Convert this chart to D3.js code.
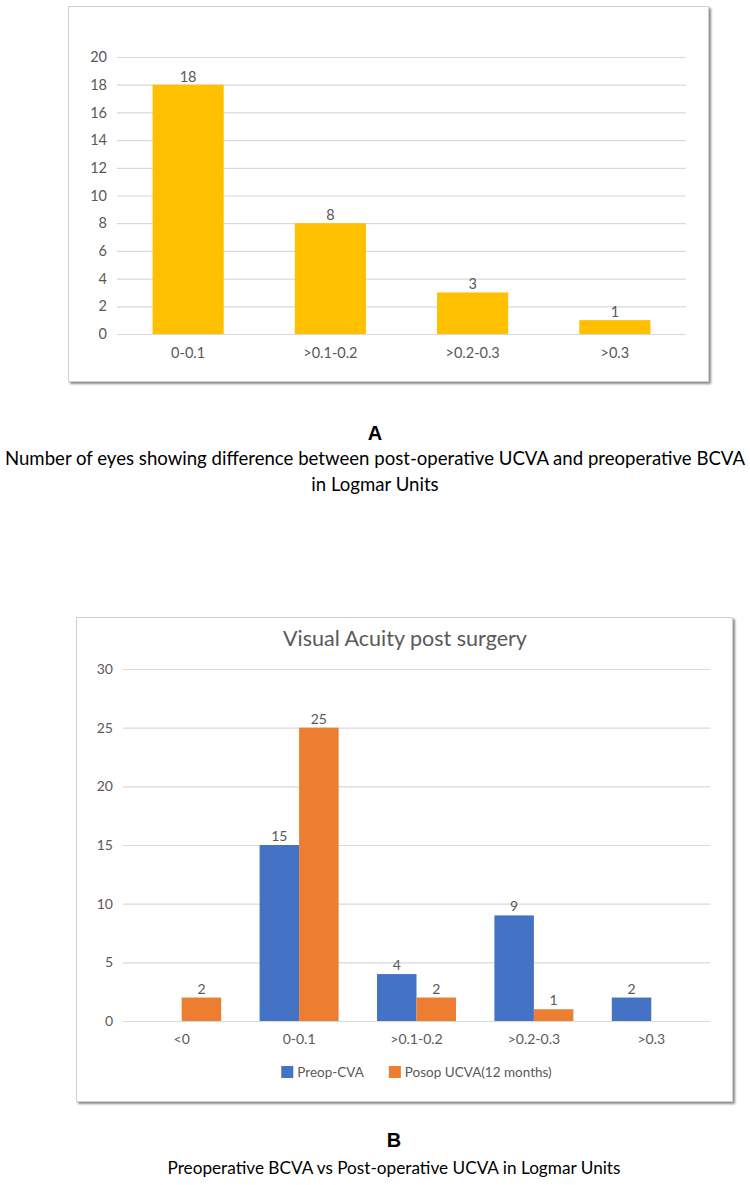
<!DOCTYPE html>
<html>
<head>
<meta charset="utf-8">
<script src="https://cdn.jsdelivr.net/npm/d3@7"></script>
<style>
  html, body { margin: 0; padding: 0; background: #fff; }
  svg { display: block; }
  text { font-family: Lato, "Open Sans", sans-serif; }
</style>
</head>
<body>
<svg id="chart" width="750" height="1185"></svg>
<script>
// ---------- DATA ----------
const catsA = ["0-0.1", ">0.1-0.2", ">0.2-0.3", ">0.3"];
const valsA = [18, 8, 3, 1];
const ticksA = [0, 2, 4, 6, 8, 10, 12, 14, 16, 18, 20];

const catsB = ["<0", "0-0.1", ">0.1-0.2", ">0.2-0.3", ">0.3"];
const preopB = [null, 15, 4, 9, 2];
const posopB = [2, 25, 2, 1, null];
const seriesB = ["Preop-CVA", "Posop UCVA(12 months)"];
const ticksB = [0, 5, 10, 15, 20, 25, 30];

const titleB = "Visual Acuity post surgery";
const labelA = "A";
const captionA = ["Number of eyes showing difference between post-operative UCVA and preoperative BCVA", "in Logmar Units"];
const labelB = "B";
const captionB = "Preoperative BCVA vs Post-operative UCVA in Logmar Units";

// ---------- STYLE ----------
const yellow = "#FFC000", blue = "#4472C4", orange = "#ED7D31";
const grid = "#d9d9d9", txt = "#595959";

const svg = d3.select("#chart");
svg.append("rect").attr("width", 750).attr("height", 1185).attr("fill", "#fff");

const defs = svg.append("defs");
const f = defs.append("filter").attr("id", "shadow").attr("x", "-5%").attr("y", "-5%").attr("width", "110%").attr("height", "110%");
f.append("feDropShadow").attr("dx", 2).attr("dy", 2).attr("stdDeviation", 1.2).attr("flood-color", "#000").attr("flood-opacity", 0.45);

function frame(x0, y0, x1, y1) {
  svg.append("rect").attr("x", x0).attr("y", y0).attr("width", x1 - x0).attr("height", y1 - y0)
    .attr("fill", "#fff").attr("stroke", "#d0d0d0").attr("stroke-width", 1).attr("filter", "url(#shadow)");
}

// ================= CHART A =================
frame(68.5, 6.5, 708.5, 381.5);
const gA = svg.append("g");
const xA = d3.scaleBand().domain(catsA).range([117, 686]).paddingInner(0.5).paddingOuter(0.25);
const yA = d3.scaleLinear().domain([0, 20]).range([334, 57]);

const yAxisA = gA.append("g").attr("transform", "translate(117,0)")
  .call(d3.axisLeft(yA).tickValues(ticksA).tickSize(-(686 - 117)).tickPadding(10).tickFormat(d3.format("d")));
yAxisA.select(".domain").remove();
yAxisA.selectAll(".tick line").attr("stroke", grid).attr("stroke-width", 1.2);
yAxisA.selectAll(".tick text").attr("fill", txt).style("font-size", "14.5px").style("font-family", "Lato");

const xAxisA = gA.append("g").attr("transform", "translate(0,334)")
  .call(d3.axisBottom(xA).tickSize(0).tickPadding(0));
xAxisA.select(".domain").remove();
xAxisA.selectAll(".tick text").attr("y", 19).attr("dy", "0.35em").attr("fill", txt).style("font-size", "14.5px").style("font-family", "Lato");

gA.selectAll("rect.bar").data(valsA).join("rect").attr("class", "bar")
  .attr("x", (d, i) => xA(catsA[i])).attr("width", xA.bandwidth())
  .attr("y", d => yA(d)).attr("height", d => yA(0) - yA(d)).attr("fill", yellow);

gA.selectAll("text.lbl").data(valsA).join("text").attr("class", "lbl")
  .attr("x", (d, i) => xA(catsA[i]) + xA.bandwidth() / 2).attr("y", d => yA(d) - 3)
  .attr("text-anchor", "middle").attr("fill", txt).style("font-size", "14.5px").text(d => d);

// captions A
svg.append("text").attr("x", 375).attr("y", 440).attr("text-anchor", "middle")
  .style("font-family", "'Liberation Sans', Arial, sans-serif").style("font-weight", "bold").style("font-size", "20px").attr("fill", "#000").text(labelA);
svg.selectAll("text.capA").data(captionA).join("text").attr("class", "capA")
  .attr("x", 375).attr("y", (d, i) => 465 + i * 26).attr("text-anchor", "middle")
  .attr("fill", "#000").style("font-size", "18.6px").text(d => d);

// ================= CHART B =================
frame(76.5, 617.5, 732.5, 1101.5);
const gB = svg.append("g");
const xB = d3.scaleBand().domain(catsB).range([123, 710]).paddingInner(0.327).paddingOuter(0.1635);
const xInner = d3.scaleBand().domain(seriesB).range([0, xB.bandwidth()]);
const yB = d3.scaleLinear().domain([0, 30]).range([1021, 669]);

gB.append("text").attr("x", 405).attr("y", 646).attr("text-anchor", "middle")
  .attr("fill", txt).style("font-size", "21.5px").text(titleB);

const yAxisB = gB.append("g").attr("transform", "translate(123,0)")
  .call(d3.axisLeft(yB).tickValues(ticksB).tickSize(-(710 - 123)).tickPadding(10).tickFormat(d3.format("d")));
yAxisB.select(".domain").remove();
yAxisB.selectAll(".tick line").attr("stroke", grid).attr("stroke-width", 1.2);
yAxisB.selectAll(".tick text").attr("fill", txt).style("font-size", "14px").style("font-family", "Lato");

const xAxisB = gB.append("g").attr("transform", "translate(0,1021)")
  .call(d3.axisBottom(xB).tickSize(0).tickPadding(0));
xAxisB.select(".domain").remove();
xAxisB.selectAll(".tick text").attr("y", 18).attr("dy", "0.35em").attr("fill", txt).style("font-size", "14px").style("font-family", "Lato");

const seriesVals = [preopB, posopB];
const seriesCols = [blue, orange];
seriesVals.forEach((vals, s) => {
  const pts = vals.map((v, i) => ({ v, c: catsB[i] })).filter(d => d.v !== null);
  gB.selectAll(null).data(pts).join("rect")
    .attr("x", d => xB(d.c) + xInner(seriesB[s])).attr("width", xInner.bandwidth())
    .attr("y", d => yB(d.v)).attr("height", d => yB(0) - yB(d.v)).attr("fill", seriesCols[s]);
  gB.selectAll(null).data(pts).join("text")
    .attr("x", d => xB(d.c) + xInner(seriesB[s]) + xInner.bandwidth() / 2).attr("y", d => yB(d.v) - 4)
    .attr("text-anchor", "middle").attr("fill", txt).style("font-size", "14px").text(d => d.v);
});

// legend
const leg = gB.append("g");
let lx = 0;
seriesB.forEach((name, s) => {
  const it = leg.append("g").attr("transform", `translate(${lx},0)`);
  it.append("rect").attr("x", 0).attr("y", -6).attr("width", 12).attr("height", 12).attr("fill", seriesCols[s]);
  const t = it.append("text").attr("x", 16).attr("y", 0).attr("dy", "0.35em").attr("fill", txt).style("font-size", "13.5px").text(name);
  lx += 16 + t.node().getComputedTextLength() + 25;
});
const legW = lx - 25;
leg.attr("transform", `translate(${(123 + 710) / 2 - legW / 2},1072)`);

// captions B
svg.append("text").attr("x", 394).attr("y", 1147).attr("text-anchor", "middle")
  .style("font-family", "'Liberation Sans', Arial, sans-serif").style("font-weight", "bold").style("font-size", "20px").attr("fill", "#000").text(labelB);
svg.append("text").attr("x", 394).attr("y", 1174).attr("text-anchor", "middle")
  .attr("fill", "#000").style("font-size", "17.2px").text(captionB);
</script>
</body>
</html>
